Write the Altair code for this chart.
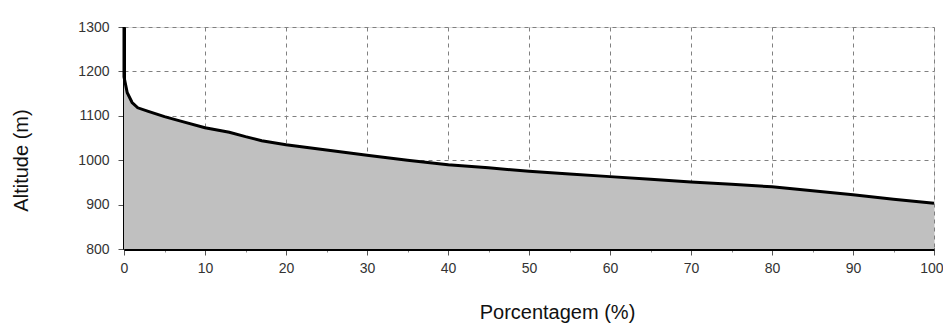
import altair as alt
import pandas as pd

# Hypsometric curve: percentage of area vs altitude
percent = [0, 0, 0.4, 1, 1.7, 3, 5, 7, 10, 13, 15, 17, 20, 25, 30, 35, 40, 45, 50,
           55, 60, 65, 70, 75, 80, 85, 90, 95, 100]
altitude = [1300, 1188, 1152, 1130, 1118, 1110, 1098, 1088, 1073, 1063, 1053, 1044,
            1035, 1023, 1011, 1000, 990, 983, 975, 969, 963, 957, 951, 946, 940,
            931, 922, 912, 903]
base_altitude = 800

x_ticks = [v * 2.5 for v in range(41)]
y_ticks = list(range(800, 1301, 25))

df = pd.DataFrame({
    "pct": percent,
    "alt": altitude,
    "base": [base_altitude] * len(percent),
    "idx": list(range(len(percent))),
})

FONT = "Liberation Sans"

x_axis = alt.Axis(
    values=x_ticks,
    labelExpr="datum.value % 10 === 0 ? datum.label : ''",
    labelOverlap=False,
    labelFlush=False,
    labelAlign={"condition": {"test": "datum.value === 100", "value": "right"}, "value": "center"},
    labelOffset={"condition": {"test": "datum.value === 100", "value": 9}, "value": 0},
    labelFont=FONT, labelFontSize=14, labelColor="#333333", labelPadding=6,
    tickSize={"condition": {"test": "datum.value % 10 === 0", "value": 6}, "value": 3},
    tickColor={"condition": {"test": "datum.value % 10 === 0", "value": "#555555"}, "value": "#888888"},
    grid=True,
    gridOpacity={"condition": {"test": "datum.value % 10 === 0", "value": 1}, "value": 0},
    gridColor="#808080", gridDash=[4, 4], gridWidth=1,
    domainColor="#000000", domainWidth=3,
    title="Porcentagem (%)",
    titleFont=FONT, titleFontSize=20, titleFontWeight="normal", titleColor="#111111",
    titleX=433, titleY=69, titleAlign="center", titleBaseline="alphabetic",
)

y_axis = alt.Axis(
    values=y_ticks,
    labelExpr="datum.value % 100 === 0 ? datum.label : ''",
    format="d",
    labelOverlap=False,
    labelFlush=False,
    labelFont=FONT, labelFontSize=14, labelColor="#333333", labelPadding=9,
    tickSize={"condition": {"test": "datum.value % 100 === 0", "value": 6}, "value": 3},
    tickColor={"condition": {"test": "datum.value % 100 === 0", "value": "#555555"}, "value": "#888888"},
    grid=True,
    gridOpacity={"condition": {"test": "datum.value % 100 === 0", "value": 1}, "value": 0},
    gridColor="#808080", gridDash=[4, 4], gridWidth=1,
    domainColor="#000000", domainWidth=3,
    title="Altitude (m)",
    titleFont=FONT, titleFontSize=20, titleFontWeight="normal", titleColor="#111111",
    titleX=-97, titleY=133, titleAlign="center", titleBaseline="alphabetic", titleAngle=270,
)

x_enc = alt.X("pct:Q", scale=alt.Scale(domain=[0, 100], nice=False, zero=False), axis=x_axis)
y_enc = alt.Y("alt:Q", scale=alt.Scale(domain=[800, 1300], nice=False, zero=False), axis=y_axis)

area = alt.Chart(df).mark_area(color="#c0c0c0", opacity=1).encode(
    x=x_enc, y=y_enc, y2="base:Q"
)
line = alt.Chart(df).mark_line(color="#000000", strokeWidth=3, strokeJoin="miter").encode(
    x=alt.X("pct:Q"), y=alt.Y("alt:Q"), order="idx:Q"
)

chart = alt.layer(area, line).properties(
    width=810, height=222,
    autosize=alt.AutoSizeParams(type="none"),
    padding={"left": 116, "top": 19, "right": 9, "bottom": 75},
).configure_view(stroke=None).configure(background="#ffffff")

chart.save("out.html", embed_options={"renderer": "svg", "actions": False})
